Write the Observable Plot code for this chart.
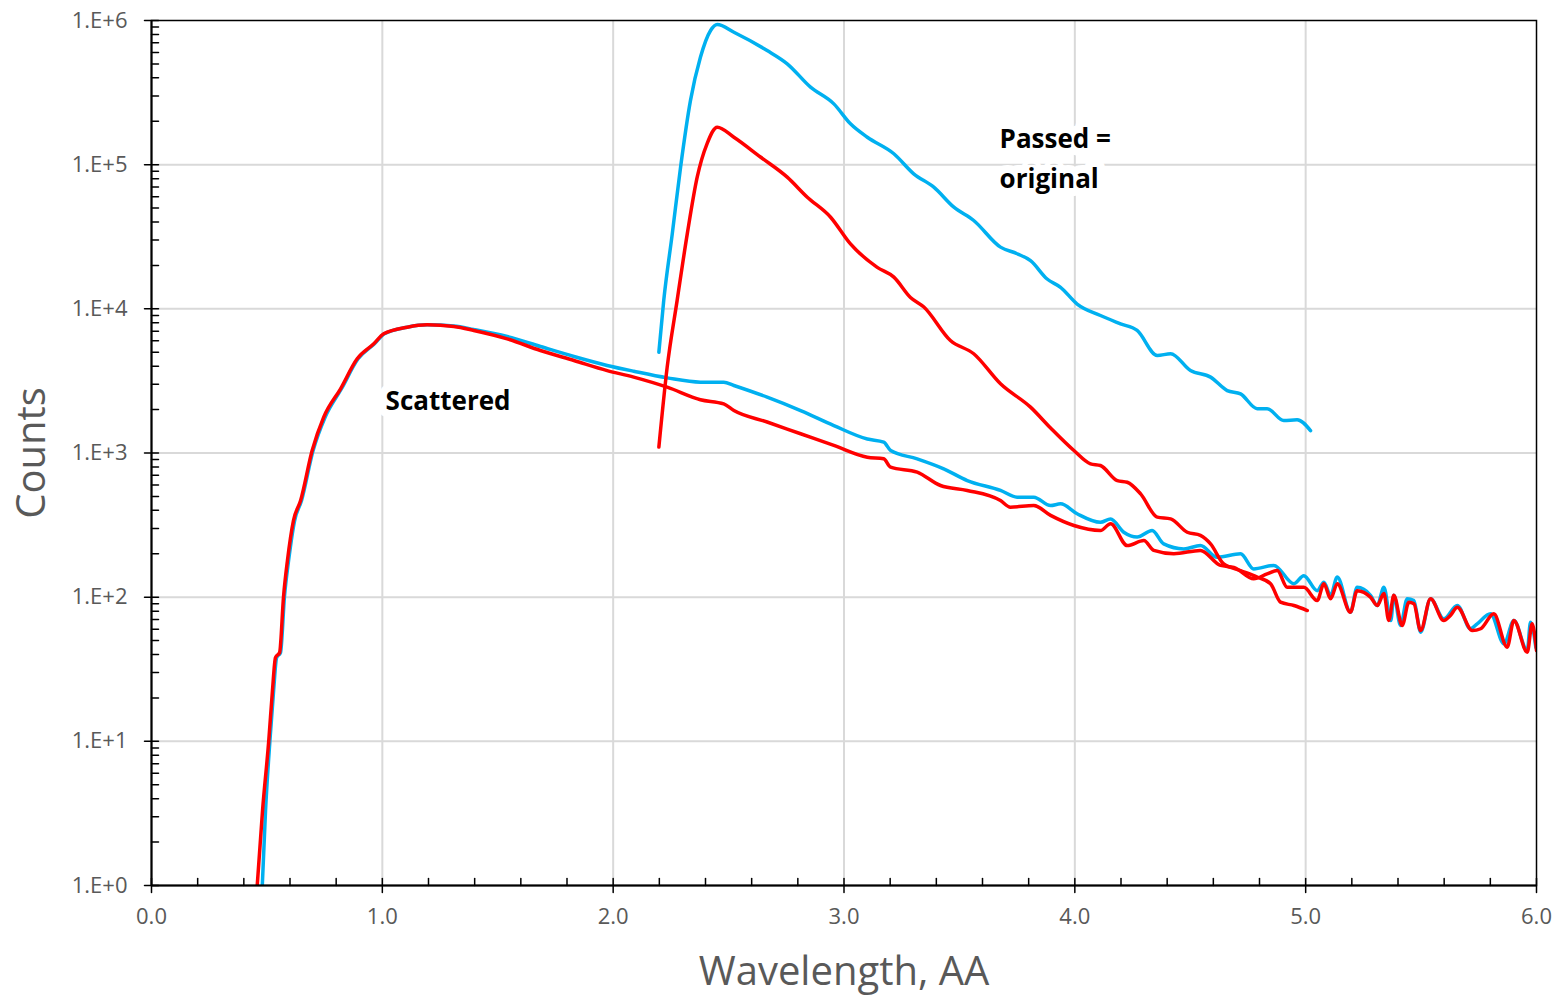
<!DOCTYPE html>
<html>
<head>
<meta charset="utf-8">
<script src="https://cdn.jsdelivr.net/npm/d3@7"></script>
<script src="https://cdn.jsdelivr.net/npm/@observablehq/plot@0.6"></script>
<style>
  html, body { margin: 0; padding: 0; background: #ffffff; }
  #chart { width: 1559px; height: 998px; }
</style>
</head>
<body>
<div id="chart"></div>
<script>
// ---- Data (wavelength in Å, counts) ----
const blueScattered = [[0.480,1],[0.494,3.31],[0.513,10.1],[0.529,22.5],[0.542,38.1],[0.559,41.3],[0.576,101],[0.594,180],[0.620,340],[0.650,468],[0.700,1040],[0.752,1771],[0.823,2790],[0.895,4500],[0.966,5720],[1.009,6710],[1.108,7460],[1.194,7750],[1.310,7600],[1.396,7190],[1.541,6430],[1.685,5480],[1.830,4670],[1.974,4050],[2.089,3690],[2.234,3320],[2.378,3100],[2.479,3100],[2.523,2940],[2.667,2440],[2.812,1970],[2.956,1550],[3.101,1250],[3.172,1190],[3.202,1040],[3.317,911],[3.432,777],[3.534,644],[3.678,550],[3.750,494],[3.822,494],[3.895,432],[3.938,444],[4.010,379],[4.111,331],[4.155,349],[4.212,282],[4.270,261],[4.335,290],[4.385,234],[4.472,216],[4.544,228],[4.617,189],[4.718,200],[4.775,157],[4.862,166],[4.949,124],[4.992,141],[5.050,111],[5.079,127],[5.108,103],[5.137,138],[5.194,78.7],[5.223,117],[5.281,103],[5.310,87.5],[5.339,117],[5.369,68.9],[5.382,103],[5.411,63.6],[5.440,97.4],[5.469,94.8],[5.498,57.1],[5.541,97.4],[5.598,70.8],[5.657,87.5],[5.714,60.4],[5.743,65.3],[5.801,76.7],[5.859,47.5],[5.902,68.9],[5.960,42.7],[5.974,67],[5.997,45]];

const redScattered = [[0.458,1],[0.481,3.31],[0.508,10.1],[0.524,22.5],[0.537,38.1],[0.555,41.3],[0.572,101],[0.589,180],[0.615,340],[0.646,468],[0.696,1040],[0.746,1771],[0.819,2790],[0.891,4500],[0.963,5720],[1.006,6710],[1.108,7460],[1.194,7750],[1.310,7540],[1.396,7080],[1.541,6190],[1.685,5140],[1.830,4380],[1.974,3730],[2.089,3360],[2.234,2860],[2.378,2340],[2.479,2190],[2.523,1970],[2.667,1640],[2.812,1360],[2.956,1130],[3.101,935],[3.172,911],[3.202,797],[3.317,736],[3.418,595],[3.534,550],[3.678,468],[3.721,421],[3.822,432],[3.895,369],[3.996,314],[4.111,290],[4.155,323],[4.227,228],[4.299,247],[4.342,211],[4.429,200],[4.544,211],[4.631,166],[4.689,161],[4.775,134],[4.833,145],[4.877,153],[4.920,117],[4.992,117],[5.050,94.8],[5.079,124],[5.108,97.4],[5.137,124],[5.194,78.7],[5.223,111],[5.281,100],[5.310,87.5],[5.339,106],[5.360,68.9],[5.382,103],[5.418,63.6],[5.447,92.3],[5.469,89.9],[5.498,58.7],[5.541,97.4],[5.598,68.9],[5.627,74.6],[5.657,85.2],[5.722,58.7],[5.758,60.4],[5.815,76.7],[5.873,45],[5.902,68.9],[5.960,41.5],[5.981,65.3],[6.000,42.7]];

const bluePassed = [[2.198,5000],[2.219,11400],[2.256,33100],[2.292,96000],[2.335,279000],[2.378,556000],[2.422,853000],[2.451,938000],[2.523,829000],[2.667,619000],[2.754,501000],[2.855,345000],[2.956,264000],[3.028,192000],[3.101,155000],[3.216,119000],[3.302,86400],[3.389,69800],[3.476,50700],[3.562,41000],[3.678,26800],[3.750,24100],[3.808,21600],[3.880,16100],[3.938,14100],[4.010,10800],[4.111,8990],[4.198,7870],[4.270,7080],[4.357,4750],[4.415,4880],[4.501,3730],[4.588,3360],[4.660,2710],[4.718,2570],[4.790,2030],[4.833,2030],[4.905,1680],[4.963,1700],[5.021,1430]];

const redPassed = [[2.198,1100],[2.234,3940],[2.277,11400],[2.321,33100],[2.364,81900],[2.407,140000],[2.451,182000],[2.523,155000],[2.638,113000],[2.754,81900],[2.841,59500],[2.942,43200],[3.028,28200],[3.144,19400],[3.216,16600],[3.288,12000],[3.346,10300],[3.461,6030],[3.562,4880],[3.678,3020],[3.808,2080],[3.895,1490],[3.996,1040],[4.068,841],[4.111,819],[4.184,644],[4.227,627],[4.285,521],[4.357,359],[4.415,349],[4.487,282],[4.544,268],[4.588,234],[4.645,170],[4.718,153],[4.790,138],[4.848,124],[4.891,92.3],[4.949,87.5],[5.007,80.8]];

// ---- Axes ----
const xTicks = [0, 1, 2, 3, 4, 5, 6];
const xTickLabels = ["0.0", "1.0", "2.0", "3.0", "4.0", "5.0", "6.0"];
const yTicks = [1, 10, 100, 1000, 10000, 100000, 1000000];
const yTickLabels = ["1.E+0", "1.E+1", "1.E+2", "1.E+3", "1.E+4", "1.E+5", "1.E+6"];
const xMinor = d3.range(0, 30).map(i => i * 0.2).filter(v => Math.abs(v - Math.round(v)) > 1e-6);
const yMinor = yTicks.slice(0, -1).flatMap(d => d3.range(2, 10).map(k => d * k));

// ---- Annotations ----
const annotations = [
  {x: 1.014, y: 2430, text: "Scattered"},
  {x: 3.674, y: 116000, text: "Passed =\noriginal"}
];

const axisTitleX = "Wavelength, AA";
const axisTitleY = "Counts";

const BLUE = "#00B0F0";
const RED = "#FF0000";
const GREY = "#595959";

const tickLine = {draw(context, l) { context.moveTo(0, 0); context.lineTo(0, -l); }};

const toRows = arr => arr.map(([x, y]) => ({x, y}));
const lineOpts = color => ({x: "x", y: "y", stroke: color, strokeWidth: 3.5, curve: "monotone-x", clip: true});

const chart = Plot.plot({
  width: 1559,
  height: 998,
  marginTop: 20,
  marginRight: 23,
  marginBottom: 113,
  marginLeft: 151,
  style: {fontFamily: "'Open Sans', sans-serif", background: "#ffffff", overflow: "visible"},
  x: {domain: [0, 6]},
  y: {type: "log", domain: [1, 1e6]},
  marks: [
    Plot.gridX({ticks: xTicks.slice(1, -1), stroke: "#d9d9d9", strokeOpacity: 1, strokeWidth: 2}),
    Plot.gridY({ticks: yTicks.slice(1, -1), stroke: "#d9d9d9", strokeOpacity: 1, strokeWidth: 2}),
    Plot.line(toRows(blueScattered), lineOpts(BLUE)),
    Plot.line(toRows(bluePassed), lineOpts(BLUE)),
    Plot.line(toRows(redScattered), lineOpts(RED)),
    Plot.line(toRows(redPassed), lineOpts(RED)),
    Plot.frame({stroke: "#000", strokeWidth: 1.5}),
    Plot.ruleX([0], {stroke: "#000", strokeWidth: 2}),
    Plot.ruleY([1], {stroke: "#000", strokeWidth: 2}),
    // x ticks
    Plot.vector(xTicks, {x: d => d, frameAnchor: "bottom", length: 14, anchor: "middle", rotate: 0, shape: tickLine, stroke: "#000", strokeWidth: 1.5}),
    Plot.vector(xMinor, {x: d => d, frameAnchor: "bottom", length: 7, anchor: "start", rotate: 0, shape: tickLine, stroke: "#000", strokeWidth: 1.5}),
    // y ticks
    Plot.vector(yTicks, {y: d => d, frameAnchor: "left", length: 14, anchor: "middle", rotate: 90, shape: tickLine, stroke: "#000", strokeWidth: 1.5}),
    Plot.vector(yMinor, {y: d => d, frameAnchor: "left", length: 7, anchor: "start", rotate: 90, shape: tickLine, stroke: "#000", strokeWidth: 1.5}),
    // tick labels
    Plot.axisX({ticks: xTicks, tickSize: 0, tickPadding: 23, fontSize: 22, fill: GREY, tickFormat: d => xTickLabels[xTicks.indexOf(d)], label: null}),
    Plot.axisY({ticks: yTicks, tickSize: 0, tickPadding: 24, fontSize: 22, fill: GREY, tickFormat: d => yTickLabels[yTicks.indexOf(d)], label: null}),
    // axis titles
    Plot.text([axisTitleX], {frameAnchor: "bottom", dy: 87, fontSize: 40, fill: GREY, lineAnchor: "middle", textAnchor: "middle"}),
    Plot.text([axisTitleY], {frameAnchor: "left", dx: -119, rotate: -90, fontSize: 40, fill: GREY, lineAnchor: "middle", textAnchor: "middle"}),
    // annotations
    Plot.text(annotations, {x: "x", y: "y", text: "text", textAnchor: "start", lineAnchor: "middle", fontSize: 26, fontWeight: "bold", fill: "#000", lineHeight: 1.55, stroke: "white", strokeWidth: 16, paintOrder: "stroke"})
  ]
});

document.getElementById("chart").appendChild(chart);
</script>
</body>
</html>
